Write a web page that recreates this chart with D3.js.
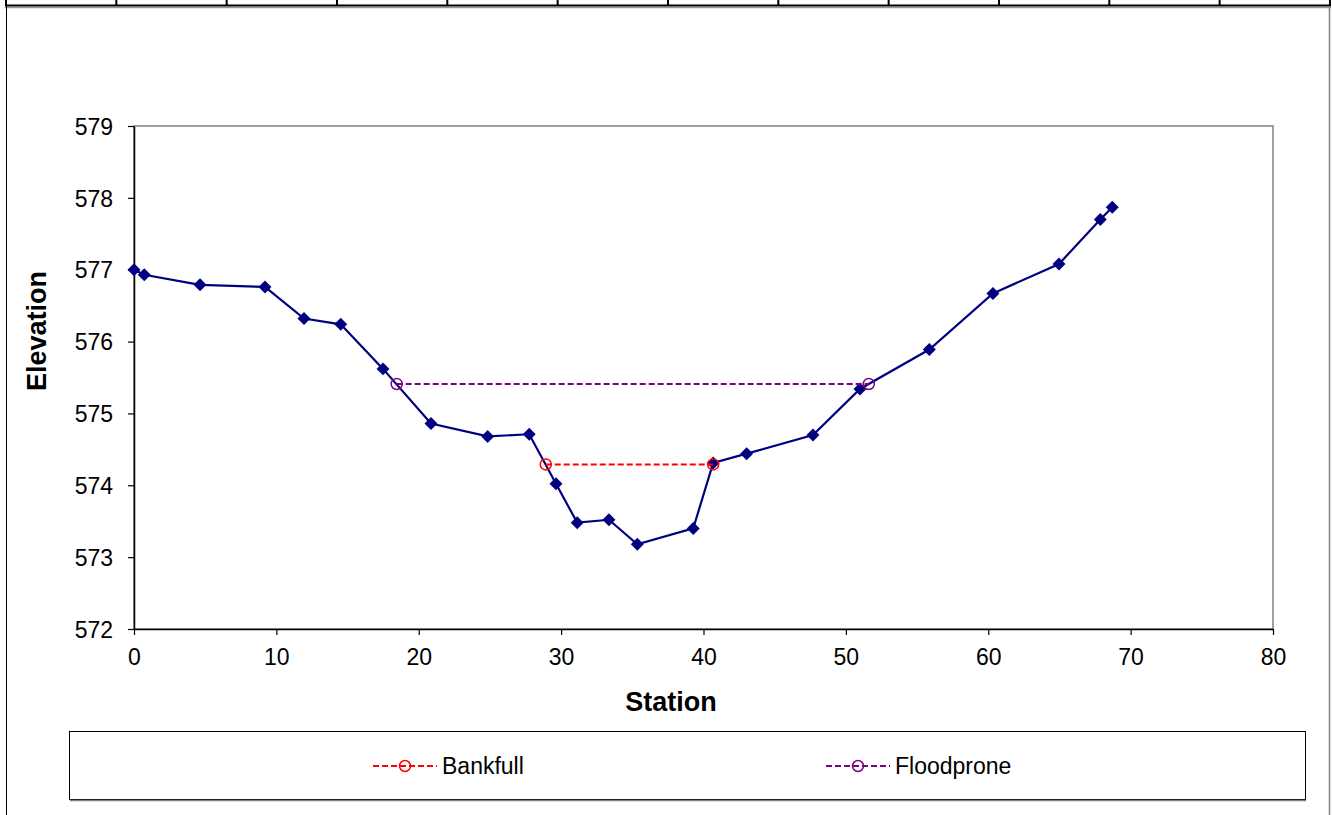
<!DOCTYPE html>
<html>
<head>
<meta charset="utf-8">
<script src="https://cdn.jsdelivr.net/npm/d3@7"></script>
<style>
  html, body { margin: 0; padding: 0; background: #fff; }
  svg { display: block; font-family: "Liberation Sans", Arial, sans-serif; }
</style>
</head>
<body>
<svg id="chart" width="1332" height="815"></svg>
<script>
// ---- data ----
const station   = [0, 0.72, 4.64, 9.20, 11.94, 14.52, 17.49, 20.86, 24.84, 27.76, 29.64, 31.13, 33.36, 35.35, 39.28, 40.68, 43.03, 47.69, 50.99, 55.86, 60.33, 64.97, 67.87, 68.71];
const elevation = [577.00, 576.93, 576.79, 576.76, 576.32, 576.24, 575.62, 574.86, 574.68, 574.71, 574.02, 573.48, 573.52, 573.18, 573.40, 574.31, 574.44, 574.70, 575.34, 575.89, 576.67, 577.08, 577.70, 577.87];
const bankfullStation = [28.92, 40.68];
const bankfullElev    = [574.29, 574.29];
const floodStation    = [18.45, 51.61];
const floodElev       = [575.41, 575.41];
const xTicks = [0, 10, 20, 30, 40, 50, 60, 70, 80];
const yTicks = [572, 573, 574, 575, 576, 577, 578, 579];
const legendNames = ["Bankfull", "Floodprone"];
const xTitle = "Station";
const yTitle = "Elevation";

// ---- layout ----
const svg = d3.select("#chart");
const W = 1332, H = 815;
const plot = { left: 134, right: 1273, top: 126, bottom: 629 };
const x = d3.scaleLinear().domain([0, 80]).range([plot.left, plot.right]);
const y = d3.scaleLinear().domain([572, 579]).range([plot.bottom, plot.top]);

// spreadsheet-like frame (decoration)
const frame = svg.append("g");
const topCols = d3.range(13).map(i => 6 + i * 110.33);
frame.selectAll("line.col").data(topCols).enter().append("line")
  .attr("x1", d => d).attr("x2", d => d).attr("y1", 0).attr("y2", 6)
  .attr("stroke", "#000").attr("stroke-width", 2);
frame.append("line").attr("x1", 5).attr("x2", 1331).attr("y1", 7.5).attr("y2", 7.5)
  .attr("stroke", "#999").attr("stroke-width", 1.5);
frame.append("line").attr("x1", 5).attr("x2", 1331).attr("y1", 5.5).attr("y2", 5.5)
  .attr("stroke", "#000").attr("stroke-width", 2);
frame.append("line").attr("x1", 6.5).attr("x2", 6.5).attr("y1", 5).attr("y2", H)
  .attr("stroke", "#000").attr("stroke-width", 1);
frame.append("line").attr("x1", 1329.5).attr("x2", 1329.5).attr("y1", 7).attr("y2", H)
  .attr("stroke", "#808080").attr("stroke-width", 1.5);

// plot area border
svg.append("rect")
  .attr("x", plot.left).attr("y", plot.top)
  .attr("width", plot.right - plot.left).attr("height", plot.bottom - plot.top)
  .attr("fill", "none").attr("stroke", "#808080").attr("stroke-width", 1.5);

// axes
const xAxis = d3.axisBottom(x).tickValues(xTicks).tickFormat(d3.format("d"))
  .tickSize(6).tickPadding(10).tickSizeOuter(0);
const yAxis = d3.axisLeft(y).tickValues(yTicks).tickFormat(d3.format("d"))
  .tickSize(6).tickPadding(15).tickSizeOuter(0);
const gx = svg.append("g").attr("transform", `translate(0,${plot.bottom})`).call(xAxis);
const gy = svg.append("g").attr("transform", `translate(${plot.left},0)`).call(yAxis);
[gx, gy].forEach(g => {
  g.select(".domain").attr("stroke", "#000").attr("stroke-width", 1.5);
  g.selectAll(".tick line").attr("stroke", "#000").attr("stroke-width", 1.2);
  g.selectAll(".tick text").attr("fill", "#000")
    .style("font-family", "'Liberation Sans', Arial, sans-serif").style("font-size", "23px");
});
gy.selectAll(".tick text").attr("dy", "0.36em");
gx.selectAll(".tick text").attr("dy", "0.85em");

// axis titles
svg.append("text").attr("x", 671).attr("y", 711)
  .attr("text-anchor", "middle").style("font-size", "27px").style("font-weight", "bold")
  .text(xTitle);
svg.append("text").attr("transform", `translate(46,331) rotate(-90)`)
  .attr("text-anchor", "middle").style("font-size", "27px").style("font-weight", "bold")
  .text(yTitle);

// profile line
const pts = station.map((s, i) => [s, elevation[i]]);
const line = d3.line().x(d => x(d[0])).y(d => y(d[1]));
svg.append("path").datum(pts).attr("d", line)
  .attr("fill", "none").attr("stroke", "#000080").attr("stroke-width", 2.2);
const diamond = d3.symbol().type(d3.symbolSquare).size(84);
svg.selectAll("path.pt").data(pts).enter().append("path")
  .attr("class", "pt")
  .attr("d", diamond)
  .attr("transform", d => `translate(${x(d[0])},${y(d[1])}) rotate(45)`)
  .attr("fill", "#000080");

// reference lines
const refs = [
  { name: legendNames[0], s: bankfullStation, e: bankfullElev, color: "#ff0000" },
  { name: legendNames[1], s: floodStation, e: floodElev, color: "#800080" }
];
refs.forEach(r => {
  const rp = r.s.map((s, i) => [s, r.e[i]]);
  svg.append("path").datum(rp).attr("d", line)
    .attr("fill", "none").attr("stroke", r.color).attr("stroke-width", 2)
    .attr("stroke-dasharray", "6,3");
  svg.selectAll(null).data(rp).enter().append("circle")
    .attr("cx", d => x(d[0])).attr("cy", d => y(d[1])).attr("r", 5.5)
    .attr("fill", "none").attr("stroke", r.color).attr("stroke-width", 1.5);
});

// legend
const lg = svg.append("g");
lg.append("rect").attr("x", 69.5).attr("y", 731.5).attr("width", 1236).attr("height", 68)
  .attr("fill", "#fff").attr("stroke", "#000").attr("stroke-width", 1);
lg.append("line").attr("x1", 70).attr("x2", 1306).attr("y1", 800.5).attr("y2", 800.5)
  .attr("stroke", "#808080").attr("stroke-width", 1.5);
const legendX = [373, 826];
refs.forEach((r, i) => {
  const g = lg.append("g").attr("transform", `translate(${legendX[i]},766)`);
  g.append("line").attr("x1", 0).attr("x2", 64).attr("y1", 0).attr("y2", 0)
    .attr("stroke", r.color).attr("stroke-width", 2).attr("stroke-dasharray", "6,3");
  g.append("circle").attr("cx", 32).attr("cy", 0).attr("r", 5.5)
    .attr("fill", "none").attr("stroke", r.color).attr("stroke-width", 1.5);
  g.append("text").attr("x", 69).attr("y", 0).attr("dy", "0.36em")
    .style("font-size", "23px").attr("fill", "#000").text(r.name);
});
</script>
</body>
</html>
